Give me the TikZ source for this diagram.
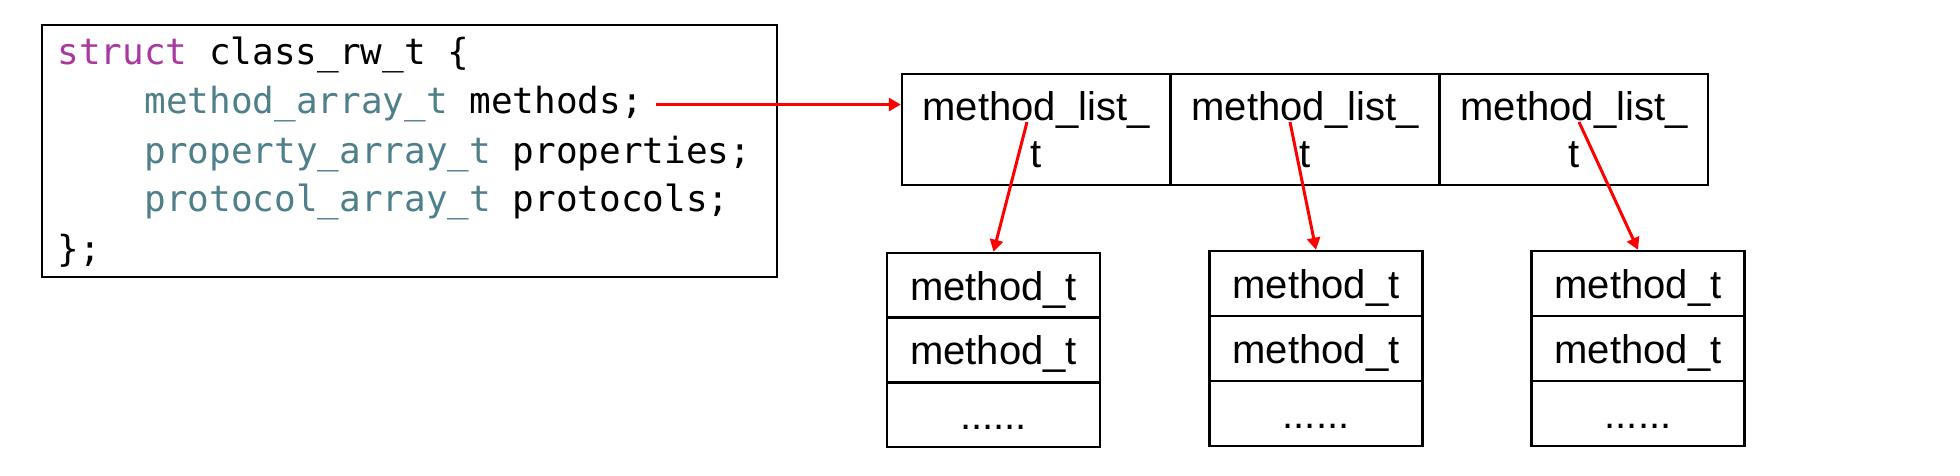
\documentclass[tikz,border=0pt]{standalone}
\usepackage{fontspec}
\setmainfont{Liberation Sans}
\setmonofont{DejaVu Sans Mono}
\usetikzlibrary{arrows.meta,calc}

\newlength{\du}
\setlength{\du}{0.5pt}

\definecolor{keywordcolor}{rgb}{0.670000, 0.220000, 0.620000}
\definecolor{typecolor}{rgb}{0.310000, 0.500000, 0.540000}
\definecolor{pointercolor}{rgb}{1.000000, 0.000000, 0.000000}

\tikzset{
  listcell/.style={draw, line width=2.5\du, minimum width=268\du, minimum height=111\du,
    inner sep=0pt, align=center, font=\fontsize{20}{23.5}\selectfont},
  methodslot/.style={draw, line width=2.5\du, minimum width=213\du, minimum height=65\du,
    inner sep=0pt, text height=29\du, text depth=0pt, font=\fontsize{20}{24}\selectfont},
  codeline/.style={anchor=base west, inner sep=0pt, font=\ttfamily\fontsize{18}{22}\selectfont},
  pointer/.style={draw=pointercolor, line width=3\du, -{Triangle[length=6pt,width=6.5pt]}},
}

\begin{document}
\begin{tikzpicture}
\pgftransformxscale{1.000000}
\pgftransformyscale{-1.000000}
\useasboundingbox (0\du,0\du) rectangle (1960\du,476\du);
% struct box
\node[draw, line width=2.5\du, minimum width=735\du, minimum height=252\du, inner sep=0pt] (codebox) at (409.500000\du,151.000000\du){};
\node[codeline] (fstruct) at (57.000000\du,65.000000\du){{\color{keywordcolor}struct} class\_rw\_t \{};
\node[codeline] (fmethods) at (144.000000\du,114.000000\du){{\color{typecolor}method\_array\_t} methods;};
\node[codeline] (fproperties) at (144.000000\du,163.000000\du){{\color{typecolor}property\_array\_t} properties;};
\node[codeline] (fprotocols) at (144.000000\du,212.000000\du){{\color{typecolor}protocol\_array\_t} protocols;};
\node[codeline] (fend) at (57.000000\du,261.000000\du){\};};
% method_array_t
\node[listcell] (cell1) at (1036.000000\du,129.500000\du){method\_list\_\\t};
\node[listcell] (cell2) at (1305.000000\du,129.500000\du){method\_list\_\\t};
\node[listcell] (cell3) at (1574.000000\du,129.500000\du){method\_list\_\\t};
% method_list_t
\node[methodslot] (m1a) at (993.500000\du,285.500000\du){method\_t};
\node[methodslot] (m1b) at (993.500000\du,350.000000\du){method\_t};
\node[methodslot] (m1c) at (993.500000\du,414.500000\du){......};
\node[methodslot] (m2a) at (1316.000000\du,283.500000\du){method\_t};
\node[methodslot] (m2b) at (1316.000000\du,348.500000\du){method\_t};
\node[methodslot] (m2c) at (1316.000000\du,413.500000\du){......};
\node[methodslot] (m3a) at (1638.000000\du,283.500000\du){method\_t};
\node[methodslot] (m3b) at (1638.000000\du,348.500000\du){method\_t};
\node[methodslot] (m3c) at (1638.000000\du,413.500000\du){......};
% pointers
\coordinate (methodsout) at ([xshift=13\du]fmethods.east);
\draw[pointer] (methodsout) -- (methodsout -| cell1.west);
\draw[pointer] ($(cell1.center)+(-9\du,-7.5\du)$) -- (m1a.north);
\draw[pointer] ($(cell2.center)+(-15\du,-7.5\du)$) -- (m2a.north);
\draw[pointer] ($(cell3.center)+(5\du,-7.5\du)$) -- (m3a.north);
\end{tikzpicture}
\end{document}
